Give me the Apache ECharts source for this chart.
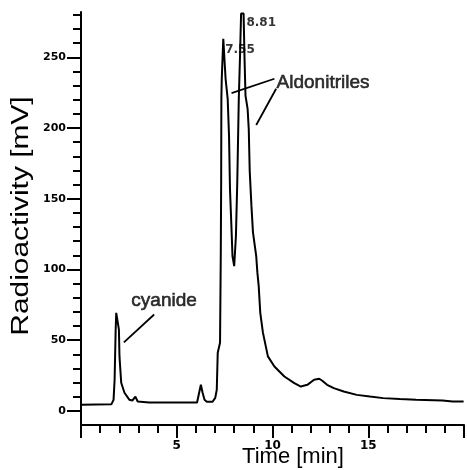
<!DOCTYPE html>
<html><head><meta charset="utf-8">
<script src="https://cdn.jsdelivr.net/npm/echarts@6/dist/echarts.min.js"></script>
<style>html,body{margin:0;padding:0;background:#fff}#c{width:467px;height:470px}</style>
</head><body><div id="c"></div>
<script>
// ---- data ----
const timeMin = [0, 1.585, 1.70, 1.755, 1.81, 1.84, 1.91, 1.98, 2.01, 2.10, 2.27, 2.53, 2.68, 2.84, 2.96, 3.56,
  6.06, 6.17, 6.26, 6.35, 6.45, 6.57, 6.87, 7.01, 7.09, 7.14, 7.26, 7.30, 7.32, 7.33, 7.35, 7.43, 7.43, 7.51, 7.55,
  7.66, 7.73, 7.78, 7.86, 7.91, 8.00, 8.09, 8.16, 8.24, 8.30, 8.36, 8.49, 8.54, 8.59, 8.70, 8.76, 8.81, 8.90, 8.98,
  9.15, 9.21, 9.28, 9.36, 9.50, 9.76, 10.10, 10.62, 11.14, 11.48, 11.82, 12.17, 12.44, 12.60, 12.85, 13.20, 13.72,
  14.40, 15.09, 15.78, 16.64, 17.50, 18.88, 19.40, 19.98];
const radioactivity = [4.3, 4.6, 7.8, 22.0, 57.4, 69.3, 68.1, 57.4, 38.3, 19.9, 12.8, 7.8, 7.3, 10.1, 6.6, 5.9,
  5.9, 12.8, 18.4, 12.8, 7.8, 6.4, 6.4, 9.2, 14.9, 41.1, 48.2, 112, 163.8, 220.6, 234.8, 236.2, 263.1, 263.1, 234.8,
  220.6, 194.5, 156.7, 128.4, 109.4, 102.3, 123.6, 161.7, 220.6, 248.9, 281, 281, 248.9, 222.9, 213.5, 199.3, 169.7, 144.9, 126.2,
  109.4, 97.9, 88.2, 69.5, 55.3, 38.5, 31.4, 24.3, 19.6, 17.2, 18.4, 22.0, 22.7, 21.3, 18.4, 16.1, 13.7,
  11.3, 10.1, 9.0, 8.3, 7.8, 7.3, 6.6, 6.6];
const yMajorTicks = [0, 50, 100, 150, 200, 250];
const yMinorTicks = [10, 20, 30, 40, 60, 70, 80, 90, 110, 120, 130, 140, 160, 170, 180, 190, 210, 220, 230, 240, 260, 270, 280];
const xTickStep = 5;
const xRange = [0, 20];
const yRange = [-10, 282];
// annotations (data coordinates)
const compoundNames = ['cyanide', 'Aldonitriles'];
const compoundAnchors = [[4.34, 77.6], [12.64, 231.9]];
const peakTimes = ['7.55', '8.81'];
const peakAnchors = [[8.30, 255.1], [9.41, 274.5]];
const leaderLines = [[[3.82, 68.1], [2.24, 48.4]], [[10.10, 234.8], [7.86, 224.6]], [[10.19, 227.7], [9.15, 202.1]]];

const chart = echarts.init(document.getElementById('c'), null, {renderer: 'canvas'});
const seriesData = timeMin.map((t, i) => [t, radioactivity[i]]);
const black = '#000';
const tickFont = 'DejaVu Sans';
const textFont = 'Liberation Sans';

chart.setOption({
  animation: false,
  backgroundColor: '#fff',
  grid: {left: 81, right: -1, top: 12, bottom: 45, containLabel: false},
  xAxis: {
    type: 'value', min: xRange[0], max: xRange[1], interval: xTickStep,
    axisLine: {onZero: false, lineStyle: {color: black, width: 2}},
    axisTick: {length: 13, lineStyle: {color: black, width: 2}},
    minorTick: {show: true, splitNumber: 5, length: 8, lineStyle: {color: black, width: 2}},
    axisLabel: {margin: 15, color: black, fontFamily: tickFont, fontWeight: 'bold', fontSize: 12,
      formatter: v => (v === 0 || v === 20) ? '' : String(v)},
    splitLine: {show: false}
  },
  yAxis: [{
    type: 'value', min: yRange[0], max: yRange[1],
    axisLine: {onZero: false, lineStyle: {color: black, width: 2}},
    axisTick: {length: 14, customValues: yMajorTicks, lineStyle: {color: black, width: 2}},
    axisLabel: {customValues: yMajorTicks, margin: 15, color: black, fontFamily: tickFont, fontWeight: 'bold', fontSize: 11},
    splitLine: {show: false}
  }, {
    type: 'value', min: yRange[0], max: yRange[1], position: 'left',
    axisLine: {show: false, onZero: false},
    axisTick: {length: 8, customValues: yMinorTicks, lineStyle: {color: black, width: 2}},
    axisLabel: {show: false},
    splitLine: {show: false}
  }],
  series: [{
    type: 'line', data: seriesData, symbol: 'none', yAxisIndex: 0,
    lineStyle: {color: black, width: 2},
    markLine: {
      silent: true, symbol: 'none', animation: false,
      label: {show: false},
      lineStyle: {color: black, width: 1.8, type: 'solid'},
      data: leaderLines.map(seg => [{coord: seg[0]}, {coord: seg[1]}])
    }
  }, {
    type: 'scatter', symbolSize: 0, yAxisIndex: 0, silent: true,
    data: compoundNames.map((n, i) => ({name: n, value: compoundAnchors[i]})),
    label: {show: true, position: 'inside', formatter: '{b}', color: black, fontFamily: textFont, fontSize: 19,
      textBorderColor: black, textBorderWidth: 0.6}
  }, {
    type: 'scatter', symbolSize: 0, yAxisIndex: 0, silent: true,
    data: peakTimes.map((n, i) => ({name: n, value: peakAnchors[i]})),
    label: {show: true, position: 'inside', formatter: '{b}', color: black, fontFamily: tickFont, fontWeight: 'bold', fontSize: 12}
  }],
  graphic: [{
    type: 'text', x: 22, y: 216, rotation: Math.PI / 2, scaleX: 1.3,
    style: {text: 'Radioactivity [mV]', fontSize: 23, fontFamily: textFont, fill: black, align: 'center', verticalAlign: 'middle'}
  }, {
    type: 'text', x: 293, y: 457,
    style: {text: 'Time [min]', fontSize: 22, fontFamily: textFont, fill: black, align: 'center', verticalAlign: 'middle'}
  }]
});
</script></body></html>
